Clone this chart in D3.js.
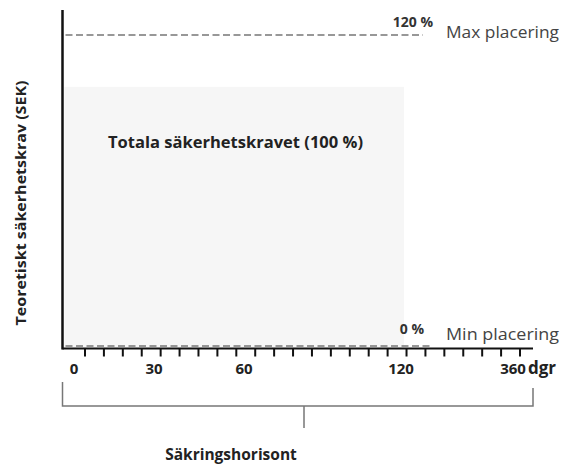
<!DOCTYPE html>
<html><head><meta charset="utf-8">
<script src="https://cdn.jsdelivr.net/npm/d3@7"></script>
<style>body{margin:0;background:#fff;}svg{display:block;}text{font-family:"Open Sans",sans-serif;}</style>
</head><body>
<svg id="c" width="564" height="466"></svg>
<script>
// data
const xTickLabels = ["0", "30", "60", "120", "360"];
const xTickDays = [0, 30, 60, 120, 360];
const levels = [
  {pct: 120, label: "120 %", name: "Max placering"},
  {pct: 0, label: "0 %", name: "Min placering"}
];
const boxPct = 100;
const boxLabel = "Totala säkerhetskravet (100 %)";
const nMinorTicks = 24;
const yTitle = "Teoretiskt säkerhetskrav (SEK)";
const xTitle = "Säkringshorisont";
const xUnit = "dgr";

const svg = d3.select("#c");
const x0 = 62.5, xEnd = 533, yBase = 348.5;
const x = d3.scaleLinear().domain(xTickDays).range([74, 154, 244, 401, 513]);
const y = d3.scaleLinear().domain([0, 120]).range([346, 35]);
const tickX = d3.scaleLinear().domain([0, nMinorTicks - 1]).range([85, 520]);

// grey box
svg.append("rect").attr("x", x0 + 2).attr("y", y(boxPct))
  .attr("width", 404 - x0 - 2).attr("height", y(0) - y(boxPct) + 2)
  .attr("fill", "#f6f6f6");
svg.append("text").attr("x", 108).attr("y", 148).attr("font-size", 15.5)
  .attr("font-weight", "bold").attr("fill", "#222").attr("textLength", 255)
  .attr("lengthAdjust", "spacingAndGlyphs").text(boxLabel);

// dashed level lines
levels.forEach(l => {
  svg.append("line").attr("x1", x0 + 3).attr("x2", l.pct > 0 ? 423 : 430)
    .attr("y1", y(l.pct)).attr("y2", y(l.pct))
    .attr("stroke", "#777").attr("stroke-width", 1.6).attr("stroke-dasharray", "7,3.5");
  svg.append("text").attr("x", l.pct > 0 ? 433 : 424).attr("y", y(l.pct) - (l.pct > 0 ? 8 : 12))
    .attr("text-anchor", "end").attr("font-size", 14).attr("font-weight", "bold")
    .attr("fill", "#333").text(l.label);
  svg.append("text").attr("x", 446).attr("y", y(l.pct) + (l.pct > 0 ? 3 : -6))
    .attr("font-size", 16.5).attr("fill", "#444").attr("textLength", 113)
    .attr("lengthAdjust", "spacingAndGlyphs").text(l.name);
});

// axes
svg.append("line").attr("x1", x0).attr("x2", x0).attr("y1", 10).attr("y2", yBase + 1)
  .attr("stroke", "#111").attr("stroke-width", 2.5);
svg.append("line").attr("x1", x0).attr("x2", xEnd).attr("y1", yBase).attr("y2", yBase)
  .attr("stroke", "#111").attr("stroke-width", 2);
svg.append("g").selectAll("line").data(d3.range(nMinorTicks)).join("line")
  .attr("x1", d => tickX(d)).attr("x2", d => tickX(d))
  .attr("y1", yBase).attr("y2", yBase + 8)
  .attr("stroke", "#111").attr("stroke-width", 2);
svg.append("g").selectAll("text").data(xTickDays).join("text")
  .attr("x", d => x(d)).attr("y", 374).attr("text-anchor", "middle")
  .attr("font-size", 15).attr("font-weight", "bold").attr("fill", "#222")
  .text((d, i) => xTickLabels[i]);
svg.append("text").attr("x", 528).attr("y", 374).attr("font-size", 17)
  .attr("font-weight", "bold").attr("fill", "#222").text(xUnit);

// bracket
const bY = 406;
svg.append("path")
  .attr("d", `M${x0},382V${bY}H${xEnd}V388M304,${bY}V428`)
  .attr("fill", "none").attr("stroke", "#777").attr("stroke-width", 1.5);
svg.append("text").attr("x", 231).attr("y", 460).attr("text-anchor", "middle")
  .attr("font-size", 15.5).attr("font-weight", "bold").attr("fill", "#222").text(xTitle);

// y title
svg.append("text").attr("transform", "translate(26,203) rotate(-90)")
  .attr("text-anchor", "middle").attr("font-size", 14.5).attr("font-weight", "bold")
  .attr("fill", "#222").attr("textLength", 245).attr("lengthAdjust", "spacingAndGlyphs")
  .text(yTitle);
</script>
</body></html>
